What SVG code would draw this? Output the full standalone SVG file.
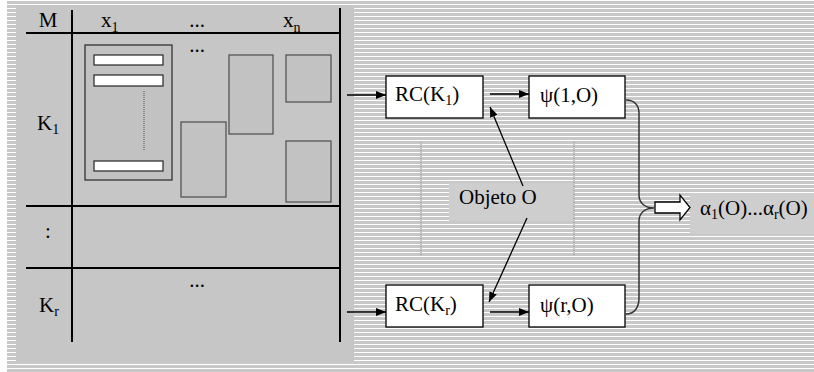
<svg xmlns="http://www.w3.org/2000/svg" width="814" height="372" viewBox="0 0 814 372">
<defs>
<pattern id="stripes" x="0" y="0" width="8" height="4" patternUnits="userSpaceOnUse">
<rect width="8" height="4" fill="#c8c8c8"/>
<rect y="0" width="8" height="1" fill="#ffffff"/>
</pattern>
<marker id="ah" viewBox="0 0 10 8" refX="10" refY="4" markerWidth="10" markerHeight="8" markerUnits="userSpaceOnUse" orient="auto">
<path d="M0,0 L10,4 L0,8 z" fill="#000"/>
</marker>
</defs>
<style>
.sub{font-size:14px}
.tl{stroke:#000;stroke-width:2;fill:none}
.ib{fill:#c2c2c2;stroke:#555;stroke-width:1.3}
.wb{fill:#fff;stroke:#333;stroke-width:1.3}
.box{fill:#fff;stroke:#000;stroke-width:1.3}
.con{stroke:#000;stroke-width:1.3;fill:none}
.dot{stroke:#888;stroke-width:1;stroke-dasharray:1,1;fill:none}
</style>
<rect width="814" height="372" fill="#fff"/>
<rect x="7" y="0" width="807" height="372" fill="url(#stripes)"/>
<g font-family="Liberation Serif, DejaVu Serif, serif" font-size="21" fill="#000">
<g id="panel">
<rect x="16" y="5" width="338" height="357" fill="#c6c6c6"/>
<line class="tl" x1="72" y1="10" x2="72" y2="342"/>
<line class="tl" x1="340" y1="8" x2="340" y2="342"/>
<line class="tl" x1="26" y1="33" x2="340" y2="33"/>
<line class="tl" x1="26" y1="206" x2="340" y2="206"/>
<line class="tl" x1="26" y1="268" x2="340" y2="268"/>
<text x="48" y="27" text-anchor="middle">M</text>
<text x="101" y="27">x<tspan class="sub" dy="5">1</tspan></text>
<text x="197" y="27" text-anchor="middle">...</text>
<text x="283" y="27">x<tspan class="sub" dy="5">n</tspan></text>
<text x="37" y="130">K<tspan class="sub" dy="4">1</tspan></text>
<text x="48" y="238" text-anchor="middle">:</text>
<text x="39" y="312">K<tspan class="sub" dy="4">r</tspan></text>
<text x="197" y="52" text-anchor="middle">...</text>
<text x="197" y="287" text-anchor="middle">...</text>
</g>
<g id="cells">
<rect class="ib" x="85" y="45" width="87" height="135" style="stroke:#333"/>
<rect class="wb" x="94" y="55" width="69" height="10"/>
<rect class="wb" x="94" y="75" width="69" height="11"/>
<rect class="wb" x="94" y="161" width="69" height="10"/>
<line class="dot" x1="144" y1="91" x2="144" y2="150" style="stroke:#555"/>
<rect class="ib" x="181" y="122" width="45" height="75"/>
<rect class="ib" x="229" y="55" width="44" height="79"/>
<rect class="ib" x="286" y="55" width="45" height="47"/>
<rect class="ib" x="286" y="141" width="45" height="61"/>
</g>
<g id="guides">
<line class="dot" x1="421" y1="142" x2="421" y2="255"/>
<line class="dot" x1="574" y1="142" x2="574" y2="255"/>
</g>
<g id="objeto">
<rect x="449" y="183" width="124" height="38" fill="#cecece"/>
<text x="459" y="204">Objeto O</text>
</g>
<g id="rc1">
<rect class="box" x="386" y="76" width="97" height="42"/>
<text x="395" y="101">RC(K<tspan class="sub" dy="4">1</tspan><tspan dy="-4">)</tspan></text>
</g>
<g id="psi1">
<rect class="box" x="529" y="76" width="96" height="42"/>
<text x="540" y="102">ψ(1,O)</text>
</g>
<g id="rcr">
<rect class="box" x="386" y="285" width="97" height="42"/>
<text x="395" y="311">RC(K<tspan class="sub" dy="4">r</tspan><tspan dy="-4">)</tspan></text>
</g>
<g id="psir">
<rect class="box" x="529" y="285" width="96" height="42"/>
<text x="540" y="312">ψ(r,O)</text>
</g>
<g id="result">
<rect x="690" y="193" width="124" height="41" fill="#cecece"/>
<text x="700" y="215">α<tspan class="sub" dy="4">1</tspan><tspan dy="-4">(O)...α</tspan><tspan class="sub" dy="4">r</tspan><tspan dy="-4">(O)</tspan></text>
</g>
</g>
<g id="connectors">
<line class="con" x1="347" y1="95" x2="386" y2="95" marker-end="url(#ah)"/>
<line class="con" x1="490" y1="94" x2="529" y2="94" marker-end="url(#ah)"/>
<line class="con" x1="347" y1="312" x2="386" y2="312" marker-end="url(#ah)"/>
<line class="con" x1="490" y1="312" x2="529" y2="312" marker-end="url(#ah)"/>
<line class="con" x1="523" y1="186" x2="490" y2="107" marker-end="url(#ah)"/>
<line class="con" x1="527" y1="218" x2="489" y2="302" marker-end="url(#ah)"/>
<path class="con" d="M626,100 C634,100 639,105 639,113 L639,195 C639,203 645,208 654,208 C645,208 639,213 639,221 L639,298 C639,308 634,314 626,314" style="stroke:#333;stroke-width:1.5"/>
<polygon points="655,202 680,202 680,195 690,207.5 680,220 680,213 655,213" fill="#fff" stroke="#000" stroke-width="1.3"/>
</g>
</svg>
